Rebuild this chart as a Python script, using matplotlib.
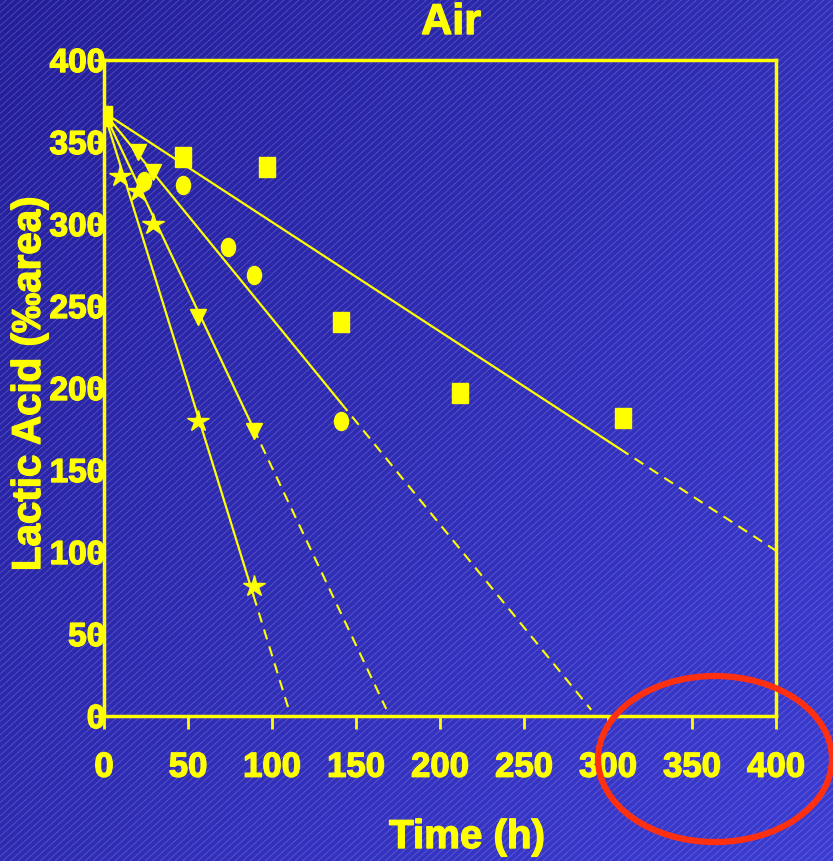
import numpy as np
import matplotlib
matplotlib.use('Agg')
import matplotlib.pyplot as plt
import matplotlib.patheffects as pe
from matplotlib.markers import MarkerStyle
from matplotlib.transforms import Affine2D
from matplotlib.patches import Ellipse

# lactic acid decay under air, four storage conditions
time_sq = [0, 47, 97, 141, 212, 309]
acid_sq = [366, 341, 335, 240, 197, 182]
time_ci = [24, 47, 74, 89, 141]
acid_ci = [326, 324, 286, 269, 180]
time_tr = [20, 29, 56, 89]
acid_tr = [344, 332, 243, 174]
time_st = [9.5, 20, 29, 56, 89]
acid_st = [329, 320, 300, 180, 79]

# linear fits: common intercept, slope per series, solid over data, dashed beyond
intercept = 368
slopes = [-0.668, -1.256, -2.165, -3.31]
solid_end = [307, 141, 89, 89]
dash_end = [400, 290, 168, 110]

xticks = list(range(0, 401, 50))
yticks = list(range(0, 401, 50))

YEL = '#ffff00'
W, H = 833, 862
plt.rcParams['font.family'] = ['Liberation Sans', 'DejaVu Sans']
plt.rcParams['font.weight'] = 'bold'
heavy = [pe.withStroke(linewidth=1.0, foreground=YEL)]

fig = plt.figure(figsize=(W / 100, H / 100), dpi=100)

# slide background: blue gradient with fine diagonal hatch
bg = fig.add_axes([0, 0, 1, 1], zorder=-5)
bg.set_xlim(0, W)
bg.set_ylim(H, 0)
bg.axis('off')
yy, xx = np.mgrid[0:H:2, 0:W:2]
t = (xx / W * 0.55 + yy / H * 0.45)[..., None]
c0 = np.array([0x24, 0x1e, 0x98]) / 255
c1 = np.array([0x3c, 0x3c, 0xd2]) / 255
bg.imshow(c0 + (c1 - c0) * t, extent=[0, W, H, 0], aspect='auto', zorder=0)
slope = np.tan(np.radians(42))
for x0 in np.arange(-H / slope, W + 10, 7.5):
    bg.plot([x0, x0 + H / slope], [H, 0], color='#b8b8ff', lw=0.6, alpha=0.3, zorder=1)

ax = fig.add_axes([104 / W, 1 - 717 / H, 672 / W, 656 / H])
ax.set_facecolor('none')
ax.set_xlim(0, 400)
ax.set_ylim(0, 400)

for s, xe, xd in zip(slopes, solid_end, dash_end):
    ax.plot([0, xe], [intercept, intercept + s * xe], color=YEL, lw=1.6, zorder=2)
    ax.plot([xe, xd], [intercept + s * xe, intercept + s * xd], color=YEL, lw=1.5,
            ls=(0, (5, 3.5)), zorder=2)

ax.plot(time_sq, acid_sq, ls='none', color=YEL, ms=14,
        marker=MarkerStyle('s', transform=Affine2D().scale(0.82, 1.0)), zorder=3)
ax.plot(time_ci, acid_ci, ls='none', color=YEL, ms=13,
        marker=MarkerStyle('o', transform=Affine2D().scale(0.78, 1.0)), zorder=3)
ax.plot(time_tr, acid_tr, ls='none', color=YEL, ms=12, marker='v', zorder=3)
ax.plot(time_st, acid_st, ls='none', color=YEL, ms=16, marker='*', zorder=3)

for sp in ax.spines.values():
    sp.set_color(YEL)
    sp.set_linewidth(2.5)
ax.set_xticks(xticks)
ax.set_yticks(yticks)
ax.tick_params(axis='x', direction='out', length=9, width=2, color=YEL,
               labelcolor=YEL, labelsize=25, pad=16)
ax.tick_params(axis='y', direction='out', length=7, width=2, color=YEL,
               labelcolor=YEL, labelsize=24, pad=-8)
for lab in ax.get_xticklabels() + ax.get_yticklabels():
    lab.set_fontweight('bold')
    lab.set_path_effects(heavy)

fig.text(451 / W, 1 - 24 / H, 'Air', color=YEL, fontsize=31, fontweight='bold',
         ha='center', va='center', path_effects=heavy)
fig.text(467 / W, 1 - 838 / H, 'Time (h)', color=YEL, fontsize=29, fontweight='bold',
         ha='center', va='center', path_effects=heavy)
fig.text(29 / W, 1 - 385 / H, 'Lactic Acid (‰area)', color=YEL, fontsize=29,
         fontweight='bold', ha='center', va='center', rotation=90, path_effects=heavy)

# highlight around the long-time end of the axis
top = fig.add_axes([0, 0, 1, 1], zorder=10)
top.set_xlim(0, W)
top.set_ylim(H, 0)
top.axis('off')
top.add_patch(Ellipse((715, 760), 234, 166, fill=False, ec='#ff3010', lw=4.5))

fig.savefig('out.png', dpi=100)
